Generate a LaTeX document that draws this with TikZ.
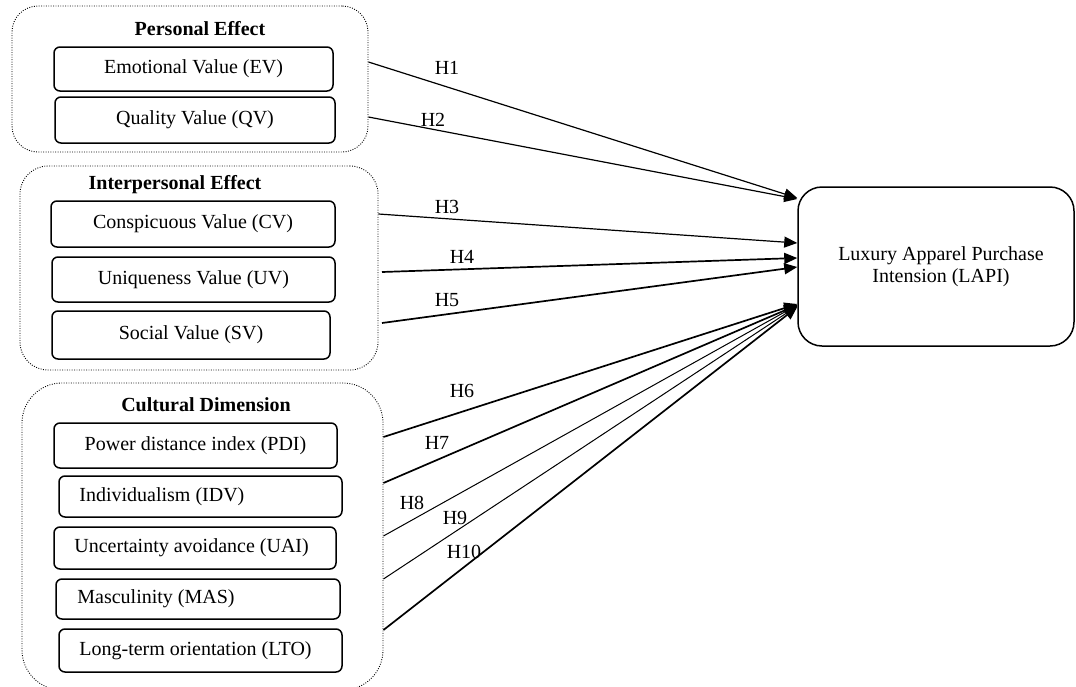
\documentclass[tikz,border=0pt]{standalone}
\usepackage{fontspec}
\setmainfont{Liberation Serif}
\usetikzlibrary{fit,arrows.meta}
\begin{document}
\begin{tikzpicture}[x=0.5pt,y=-0.5pt,
  every node/.style={font=\fontsize{10}{11}\selectfont},
  item/.style={draw,line width=0.75pt,rounded corners=3pt,inner sep=0pt},
  group/.style={draw,line width=0.45pt,dash pattern=on 0.45pt off 0.75pt,inner sep=0pt},
  gtitle/.style={font=\fontsize{10}{11}\selectfont\bfseries,inner sep=0pt},
  lbl/.style={inner sep=0pt},
  hyp/.style={-{Triangle[length=6.5pt,width=5.5pt]},line width=0.6pt},
  hypthick/.style={hyp,line width=0.85pt},
  hypthin/.style={hyp,line width=0.5pt}]
\useasboundingbox (0,0) rectangle (1076,686);
% groups
\node[group,rounded corners=13pt,fit={(12,6)(368,152)}] (g1) {};
\node[group,rounded corners=14pt,fit={(20,166)(378,370)}] (g2) {};
\node[group,rounded corners=20pt,fit={(22,383)(383,690)}] (g3) {};
\node[gtitle] (t1) at (200,29) {Personal Effect};
\node[gtitle] (t2) at (175,185) {Interpersonal Effect};
\node[gtitle] (t3) at (206,405) {Cultural Dimension};
% items
\node[item,fit={(54,47)(333,91)}] (ev) {};
\node[lbl] (evt) at (ev.center) {Emotional Value (EV)};
\node[item,fit={(55,97)(335,143)}] (qv) {};
\node[lbl] (qvt) at (qv.center) {Quality Value (QV)};
\node[item,fit={(51,201)(335,247)}] (cv) {};
\node[lbl] (cvt) at (cv.center) {Conspicuous Value (CV)};
\node[item,fit={(52,257)(335,302)}] (uv) {};
\node[lbl] (uvt) at (uv.center) {Uniqueness Value (UV)};
\node[item,fit={(52,311)(330,359)}] (sv) {};
\node[lbl] (svt) at (sv.center) {Social Value (SV)};
\node[item,fit={(54,423)(337,468)}] (pdi) {};
\node[lbl] (pdit) at (pdi.center) {Power distance index (PDI)};
\node[item,fit={(59,476)(342,517)}] (idv) {};
\node[lbl,anchor=west] (idvt) at (79,497) {Individualism (IDV)};
\node[item,fit={(54,527)(336,569)}] (uai) {};
\node[lbl,anchor=west] (uait) at (74,548) {Uncertainty avoidance (UAI)};
\node[item,fit={(56,579)(340,619)}] (mas) {};
\node[lbl,anchor=west] (mast) at (77,599) {Masculinity (MAS)};
\node[item,fit={(59,629)(342,672)}] (lto) {};
\node[lbl,anchor=west] (ltot) at (79,651) {Long-term orientation (LTO)};
% target
\node[draw,line width=0.75pt,rounded corners=12pt,inner sep=0pt,
      fit={(798,187)(1074,346)}] (lapi) {};
\node[lbl,align=center] (lapit) at (941,267) {Luxury Apparel Purchase\\Intension (LAPI)};
% arrows
\draw[hyp] (g1.east |- 0,62) -- (lapi.west |- 0,198);
\draw[hyp] (g1.east |- 0,117) -- (lapi.west |- 0,199);
\draw[hyp] (g2.east |- 0,214) -- (lapi.west |- 0,243);
\draw[hypthick] (382,272) coordinate (s4) -- (lapi.west |- 0,258);
\draw[hypthick] (382,323) coordinate (s5) -- (lapi.west |- 0,267);
\draw[hypthick] (g3.east |- 0,437) -- (lapi.west |- 0,304);
\draw[hypthick] (g3.east |- 0,483) -- (lapi.west |- 0,305);
\draw[hypthin] (g3.east |- 0,536) -- (lapi.west |- 0,305);
\draw[hypthin] (g3.east |- 0,579) -- (lapi.west |- 0,306);
\draw[hypthick] (g3.east |- 0,630) -- (lapi.west |- 0,307);
% labels
\node[lbl] (h1) at (447,68) {H1};
\node[lbl] (h2) at (433,120) {H2};
\node[lbl] (h3) at (447,207) {H3};
\node[lbl] (h4) at (462,257) {H4};
\node[lbl] (h5) at (447,300) {H5};
\node[lbl] (h6) at (462,391) {H6};
\node[lbl] (h7) at (437,443) {H7};
\node[lbl] (h8) at (412,503) {H8};
\node[lbl] (h9) at (455,518) {H9};
\node[lbl] (h10) at (464,552) {H10};
\end{tikzpicture}
\end{document}
